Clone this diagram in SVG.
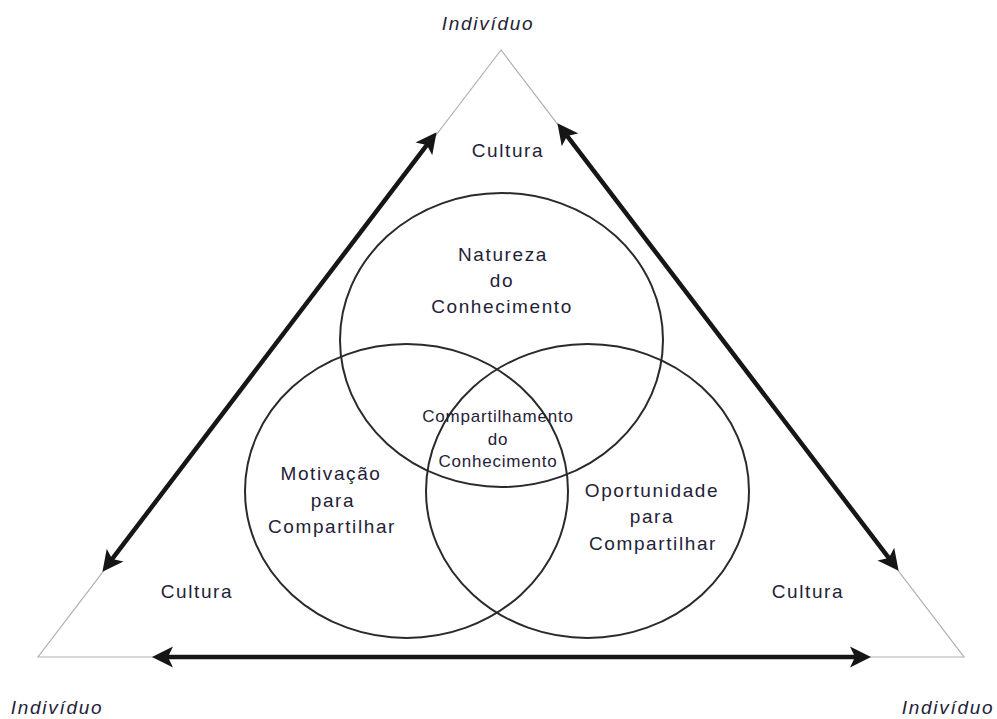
<svg xmlns="http://www.w3.org/2000/svg" width="997" height="719" viewBox="0 0 997 719">
<style>
.t{font-family:"Liberation Sans",Arial,sans-serif;font-size:19px;letter-spacing:1.6px;fill:#1f2238;text-anchor:middle}
.s{font-size:17px;letter-spacing:0.8px}
.i{font-style:italic;letter-spacing:1.7px}
.c{fill:none;stroke:#2a2a2a;stroke-width:2}
.tri{fill:none;stroke:#b0b0b0;stroke-width:1.2}
.a{fill:none;stroke:#161616;stroke-width:4.5;marker-start:url(#ah);marker-end:url(#ah)}
</style>
<defs>
<marker id="ah" markerUnits="userSpaceOnUse" markerWidth="22" markerHeight="22" viewBox="0 -11 22 22" refX="6" refY="0" orient="auto-start-reverse">
<path d="M0,-10.5 L21,0 L0,10.5 L5,0 Z" fill="#161616"/>
</marker>
</defs>
<rect width="997" height="719" fill="#fff"/>
<g id="triangle">
<polygon class="tri" points="501,50 38,657 964,657"/>
</g>
<g id="connectors">
<path class="a" d="M427.5,144.1 L111.5,559.9"/>
<path class="a" d="M566.5,135.1 L889.5,558.9"/>
<path class="a" d="M167,657 L856,657"/>
</g>
<g id="natureza">
<ellipse class="c" cx="501.5" cy="340" rx="161.5" ry="147"/>
<text class="t" x="503" y="261">Natureza</text>
<text class="t" x="502" y="287">do</text>
<text class="t" x="502" y="313">Conhecimento</text>
</g>
<g id="motivacao">
<ellipse class="c" cx="406.5" cy="491" rx="161.5" ry="147"/>
<text class="t" x="331" y="480">Motivação</text>
<text class="t" x="333" y="507">para</text>
<text class="t" x="332" y="533">Compartilhar</text>
</g>
<g id="oportunidade">
<ellipse class="c" cx="587.5" cy="491" rx="161.5" ry="147"/>
<text class="t" x="652" y="497">Oportunidade</text>
<text class="t" x="652" y="523">para</text>
<text class="t" x="653" y="550">Compartilhar</text>
</g>
<g id="compartilhamento">
<text class="t s" x="498" y="422">Compartilhamento</text>
<text class="t s" x="498" y="445">do</text>
<text class="t s" x="498" y="467">Conhecimento</text>
</g>
<g id="cultura-top"><text class="t" x="508" y="157">Cultura</text></g>
<g id="cultura-left"><text class="t" x="197" y="598">Cultura</text></g>
<g id="cultura-right"><text class="t" x="808" y="598">Cultura</text></g>
<g id="individuo-top"><text class="t i" x="488" y="30">Indivíduo</text></g>
<g id="individuo-left"><text class="t i" x="57" y="714">Indivíduo</text></g>
<g id="individuo-right"><text class="t i" x="948" y="714">Indivíduo</text></g>
</svg>
